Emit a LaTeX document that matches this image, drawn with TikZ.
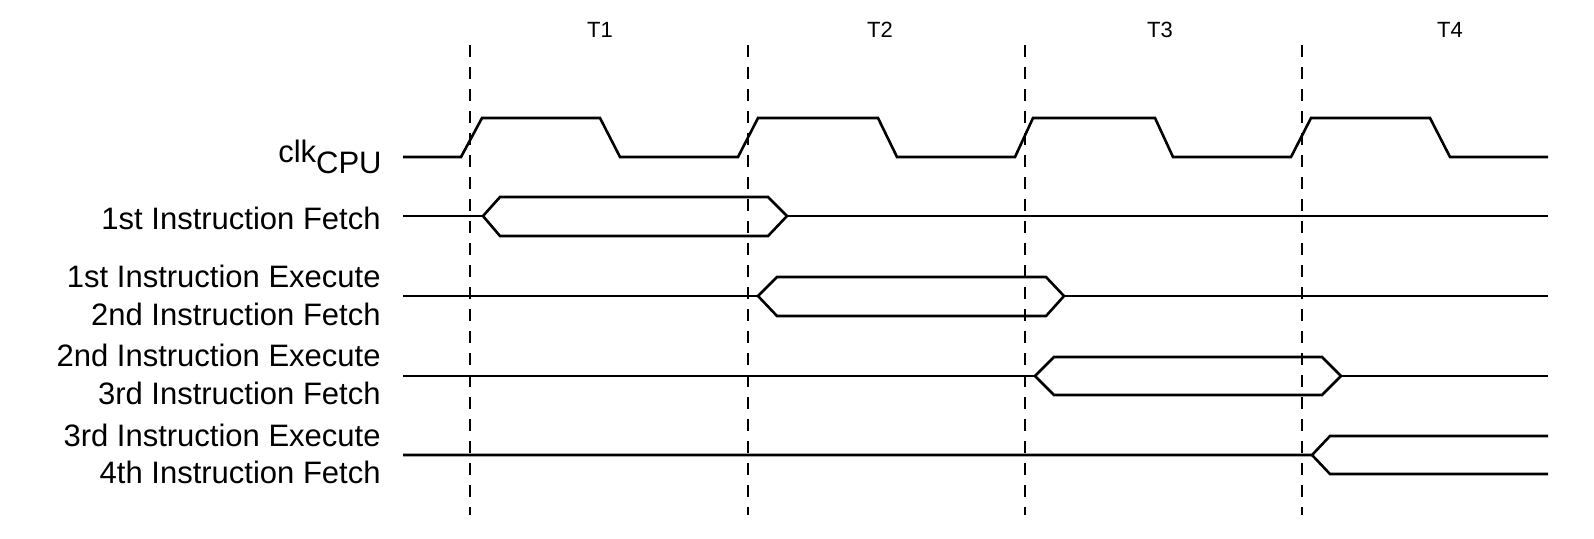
\documentclass[tikz,border=0pt]{standalone}
\usepackage{fontspec}
\setmainfont{Liberation Sans}
\usetikzlibrary{positioning}
\tikzset{
  wave/.style={line width=1.3pt, line join=miter},
  grid/.style={line width=1.2pt, dashed, dash pattern=on 6pt off 5pt},
  siglabel/.style={anchor=east, inner sep=0pt, font=\fontsize{15.5}{18}\selectfont},
  tlabel/.style={inner sep=0pt, font=\fontsize{11}{13}\selectfont}
}
\begin{document}
\begin{tikzpicture}[x=0.5pt,y=-0.5pt]
  \useasboundingbox (0,0) rectangle (1594,538);

  %Period boundaries
  \foreach \xb in {470,748,1025,1302}
    \draw[grid] (\xb,45) -- (\xb,515);
  \node[tlabel] (t1) at (600,30) {T1};
  \node[tlabel] (t2) at (880,30) {T2};
  \node[tlabel] (t3) at (1160,30) {T3};
  \node[tlabel] (t4) at (1450,30) {T4};

  %Signal names
  \node[siglabel] (clk) at (383,157) {clk$_{\hbox{\fontsize{15.5}{18}\selectfont CPU}}$};
  \node[siglabel] (f1) at (381,218) {1st Instruction Fetch};
  \node[siglabel] (e1) at (381,276) {1st Instruction Execute};
  \node[siglabel] (f2) at (381,314) {2nd Instruction Fetch};
  \node[siglabel] (e2) at (381,355) {2nd Instruction Execute};
  \node[siglabel] (f3) at (381,393) {3rd Instruction Fetch};
  \node[siglabel] (e3) at (381,435) {3rd Instruction Execute};
  \node[siglabel] (f4) at (381,472) {4th Instruction Fetch};

  %Clock
  \draw[wave] (403,157) -- (461,157) -- (482,118) -- (600,118) -- (620,157)
    -- (738,157) -- (758,118) -- (878,118) -- (897,157)
    -- (1015,157) -- (1033,118) -- (1155,118) -- (1173,157)
    -- (1291,157) -- (1311,118) -- (1430,118) -- (1450,157) -- (1548,157);

  %Bus rows
  \draw[wave] (483,216) -- (500,197) -- (768,197) -- (787,216)
    -- (768,236) -- (500,236) -- cycle;
  \draw[wave] (403,216) -- (483,216);
  \draw[wave] (787,216) -- (1548,216);
  \draw[wave] (758,296) -- (777,277) -- (1046,277) -- (1064,296)
    -- (1046,316) -- (777,316) -- cycle;
  \draw[wave] (403,296) -- (758,296);
  \draw[wave] (1064,296) -- (1548,296);
  \draw[wave] (1035,376) -- (1054,357) -- (1322,357) -- (1341,376)
    -- (1322,395) -- (1054,395) -- cycle;
  \draw[wave] (403,376) -- (1035,376);
  \draw[wave] (1341,376) -- (1548,376);
  \draw[wave] (403,455) -- (1312,455) -- (1330,436) -- (1548,436);
  \draw[wave] (1312,455) -- (1330,474) -- (1548,474);
\end{tikzpicture}
\end{document}
